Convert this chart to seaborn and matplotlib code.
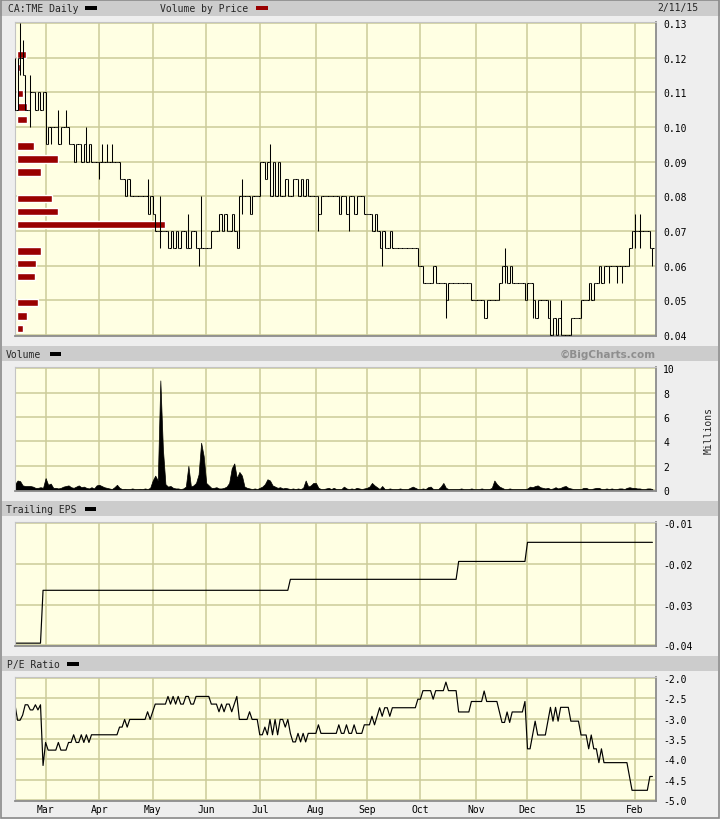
import numpy as np
import pandas as pd
import matplotlib
matplotlib.use("Agg")
import matplotlib.pyplot as plt
from matplotlib.patches import Rectangle
from matplotlib.ticker import FormatStrFormatter
import seaborn as sns

# ---------------- data ----------------
start_day, end_day = "2014-02-12", "2015-02-11"
holidays = ["2014-02-17", "2014-04-18", "2014-05-19", "2014-07-01", "2014-08-04",
            "2014-09-01", "2014-10-13", "2014-12-25", "2014-12-26", "2015-01-01"]

# daily closes (CAD), one list per month
close_feb14 = [0.105, 0.12, 0.12, 0.115, 0.105, 0.105, 0.11, 0.11, 0.105, 0.11, 0.105, 0.11]
close_mar14 = [0.095, 0.10, 0.10, 0.10, 0.10, 0.095, 0.10, 0.10, 0.10, 0.095, 0.095,
               0.09, 0.095, 0.095, 0.09, 0.095, 0.09, 0.095, 0.09, 0.09, 0.09]
close_apr14 = [0.09, 0.09, 0.09, 0.09, 0.09, 0.09, 0.09, 0.09, 0.085, 0.085, 0.08,
               0.085, 0.08, 0.08, 0.08, 0.08, 0.08, 0.08, 0.08, 0.075, 0.08]
close_may14 = [0.075, 0.07, 0.07, 0.07, 0.07, 0.07, 0.065, 0.07, 0.065, 0.07, 0.065,
               0.07, 0.07, 0.065, 0.065, 0.07, 0.07, 0.065, 0.065, 0.065, 0.065]
close_jun14 = [0.065, 0.065, 0.07, 0.07, 0.07, 0.075, 0.07, 0.075, 0.07, 0.07, 0.075,
               0.07, 0.065, 0.08, 0.08, 0.08, 0.08, 0.075, 0.08, 0.08, 0.08]
close_jul14 = [0.09, 0.09, 0.085, 0.09, 0.08, 0.09, 0.08, 0.09, 0.08, 0.08, 0.085,
               0.08, 0.08, 0.085, 0.085, 0.08, 0.085, 0.08, 0.085, 0.08, 0.08, 0.08]
close_aug14 = [0.08, 0.075, 0.08, 0.08, 0.08, 0.08, 0.08, 0.08, 0.08, 0.075,
               0.08, 0.08, 0.075, 0.08, 0.08, 0.075, 0.08, 0.08, 0.08, 0.075]
close_sep14 = [0.075, 0.075, 0.07, 0.075, 0.07, 0.065, 0.07, 0.065, 0.065, 0.07, 0.065,
               0.065, 0.065, 0.065, 0.065, 0.065, 0.065, 0.065, 0.065, 0.065, 0.06]
close_oct14 = [0.06, 0.055, 0.055, 0.055, 0.055, 0.06, 0.055, 0.055, 0.055, 0.055, 0.05,
               0.055, 0.055, 0.055, 0.055, 0.055, 0.055, 0.055, 0.055, 0.055, 0.05, 0.05]
close_nov14 = [0.05, 0.05, 0.05, 0.045, 0.05, 0.05, 0.05, 0.05, 0.05, 0.055,
               0.06, 0.06, 0.055, 0.06, 0.055, 0.055, 0.055, 0.055, 0.055, 0.05]
close_dec14 = [0.055, 0.055, 0.05, 0.045, 0.05, 0.05, 0.05, 0.05, 0.045, 0.04, 0.045,
               0.04, 0.045, 0.04, 0.04, 0.04, 0.04, 0.045, 0.045, 0.045, 0.045]
close_jan15 = [0.05, 0.05, 0.05, 0.055, 0.05, 0.055, 0.055, 0.06, 0.055, 0.06, 0.06,
               0.06, 0.06, 0.06, 0.06, 0.06, 0.06, 0.06, 0.06, 0.065, 0.07]
close_feb15 = [0.07, 0.07, 0.07, 0.07, 0.07, 0.07, 0.065, 0.065]

# days whose range went past the open/close
wick_dates = ["2014-02-12", "2014-02-14", "2014-02-18", "2014-02-21", "2014-03-04",
              "2014-03-05", "2014-03-10", "2014-03-13", "2014-03-25", "2014-04-01",
              "2014-04-02", "2014-04-04", "2014-04-08", "2014-04-29", "2014-05-06",
              "2014-05-22", "2014-05-28", "2014-05-29", "2014-06-20", "2014-07-08",
              "2014-08-05", "2014-08-21", "2014-09-10", "2014-10-16", "2014-11-18",
              "2014-12-03", "2014-12-05", "2014-12-12", "2014-12-18", "2015-01-13",
              "2015-01-15", "2015-01-19", "2015-01-22", "2015-01-26", "2015-02-02",
              "2015-02-04", "2015-02-11"]
wick_lows = [0.105, 0.115, 0.115, 0.10, 0.095, 0.095, 0.095, 0.10, 0.09, 0.085,
             0.09, 0.09, 0.09, 0.075, 0.065, 0.065, 0.06, 0.065, 0.075, 0.08,
             0.07, 0.07, 0.06, 0.045, 0.055, 0.045, 0.045, 0.04, 0.04, 0.055,
             0.055, 0.055, 0.055, 0.055, 0.065, 0.065, 0.06]
wick_highs = [0.12, 0.13, 0.125, 0.115, 0.10, 0.10, 0.105, 0.105, 0.10, 0.09,
              0.095, 0.095, 0.095, 0.085, 0.08, 0.075, 0.065, 0.08, 0.085, 0.095,
              0.08, 0.08, 0.065, 0.055, 0.065, 0.05, 0.05, 0.05, 0.05, 0.06,
              0.06, 0.06, 0.06, 0.06, 0.075, 0.075, 0.065]

# daily volume, millions of shares
vol_feb14 = [0.5, 0.8, 0.75, 0.4, 0.35, 0.35, 0.35, 0.3, 0.2, 0.2, 0.25, 0.2]
vol_mar14 = [1.0, 0.45, 0.55, 0.2, 0.2, 0.15, 0.2, 0.3, 0.35, 0.4, 0.25, 0.2, 0.3, 0.4,
             0.25, 0.3, 0.2, 0.15, 0.25, 0.15, 0.4]
vol_apr14 = [0.45, 0.35, 0.25, 0.2, 0.15, 0.1, 0.25, 0.45, 0.2, 0.1, 0.12, 0.1, 0.1,
             0.15, 0.1, 0.1, 0.12, 0.1, 0.15, 0.1, 0.2]
vol_may14 = [0.8, 1.2, 0.8, 9.0, 3.4, 0.5, 0.3, 0.35, 0.2, 0.15, 0.15, 0.1, 0.15, 0.3,
             2.0, 0.3, 0.4, 0.6, 1.3, 3.9, 2.8]
vol_jun14 = [0.6, 0.4, 0.2, 0.2, 0.25, 0.15, 0.15, 0.2, 0.3, 0.6, 1.8, 2.2, 1.0, 1.5,
             1.2, 0.3, 0.2, 0.15, 0.1, 0.15, 0.1]
vol_jul14 = [0.2, 0.3, 0.5, 0.9, 0.8, 0.4, 0.3, 0.2, 0.25, 0.15, 0.2, 0.15, 0.1, 0.15,
             0.1, 0.15, 0.1, 0.2, 0.8, 0.3, 0.4, 0.6]
vol_aug14 = [0.6, 0.2, 0.1, 0.1, 0.15, 0.2, 0.1, 0.2, 0.1, 0.1, 0.1, 0.3, 0.15, 0.1,
             0.15, 0.1, 0.2, 0.15, 0.1, 0.15]
vol_sep14 = [0.2, 0.3, 0.6, 0.4, 0.25, 0.1, 0.35, 0.1, 0.1, 0.15, 0.1, 0.1, 0.1, 0.15,
             0.1, 0.1, 0.1, 0.2, 0.3, 0.2, 0.1]
vol_oct14 = [0.1, 0.15, 0.1, 0.25, 0.3, 0.1, 0.1, 0.1, 0.3, 0.6, 0.2, 0.1, 0.1, 0.1,
             0.1, 0.1, 0.15, 0.1, 0.1, 0.1, 0.15, 0.1]
vol_nov14 = [0.1, 0.1, 0.15, 0.1, 0.1, 0.1, 0.2, 0.8, 0.5, 0.3, 0.2, 0.1, 0.1, 0.15,
             0.1, 0.1, 0.1, 0.1, 0.1, 0.1]
vol_dec14 = [0.15, 0.3, 0.25, 0.35, 0.4, 0.25, 0.2, 0.15, 0.2, 0.1, 0.15, 0.25, 0.15,
             0.2, 0.3, 0.35, 0.2, 0.15, 0.1, 0.1, 0.1]
vol_jan15 = [0.1, 0.2, 0.2, 0.1, 0.1, 0.15, 0.2, 0.2, 0.1, 0.1, 0.15, 0.1, 0.15, 0.1,
             0.1, 0.15, 0.15, 0.1, 0.2, 0.25, 0.2]
vol_feb15 = [0.2, 0.15, 0.15, 0.1, 0.1, 0.15, 0.15, 0.1]

# volume by price (relative)
vbp_price = [0.121, 0.1171, 0.1096, 0.1058, 0.1021, 0.0945, 0.0908, 0.0870, 0.0793,
             0.0756, 0.0718, 0.0642, 0.0606, 0.0568, 0.0493, 0.0455, 0.0418]
vbp_volume = [9, 3, 6, 10, 10, 17, 41, 24, 35, 41, 148, 24, 19, 18, 21, 10, 6]

# trailing EPS, value from each date on
eps_dates = ["2014-02-12", "2014-02-28", "2014-07-18", "2014-10-23", "2014-12-01"]
eps_values = [-0.0395, -0.0265, -0.0238, -0.0194, -0.0147]

month_labels = ["Mar", "Apr", "May", "Jun", "Jul", "Aug", "Sep", "Oct", "Nov", "Dec", "15", "Feb"]

# ---------------- prep ----------------
days = pd.bdate_range(start_day, end_day)
days = days[~days.isin(pd.to_datetime(holidays))]

closes = np.array(close_feb14 + close_mar14 + close_apr14 + close_may14 + close_jun14 +
                  close_jul14 + close_aug14 + close_sep14 + close_oct14 + close_nov14 +
                  close_dec14 + close_jan15 + close_feb15)
volume = np.array(vol_feb14 + vol_mar14 + vol_apr14 + vol_may14 + vol_jun14 + vol_jul14 +
                  vol_aug14 + vol_sep14 + vol_oct14 + vol_nov14 + vol_dec14 + vol_jan15 +
                  vol_feb15)
assert len(closes) == len(days) == len(volume)

idx = np.arange(len(days))
opens = np.r_[closes[0], closes[:-1]]
highs = np.maximum(opens, closes)
lows = np.minimum(opens, closes)
for d, lo, hi in zip(wick_dates, wick_lows, wick_highs):
    i = days.get_loc(pd.Timestamp(d))
    lows[i] = min(lows[i], lo)
    highs[i] = max(highs[i], hi)

eps_pos = np.searchsorted(days, pd.to_datetime(eps_dates))
eps_daily = np.array(eps_values)[np.searchsorted(eps_pos, idx, side="right") - 1]
pe_ratio = closes / eps_daily

periods = days.to_period("M")
month_pos = np.where(periods[1:] != periods[:-1])[0] + 1

# ---------------- figure ----------------
sns.set_style("white")
plt.rcParams["font.family"] = ["DejaVu Sans Mono"]
plt.rcParams["axes.unicode_minus"] = False

W, H = 720, 820
BODY = "#EEEEEE"
BAR = "#CCCCCC"
PLOT_BG = "#FFFFE3"
GRID = "#CCCC99"
XLIM = (0, 251.4)
LW = 0.75

fig = plt.figure(figsize=(W / 100, H / 100), dpi=100, facecolor=BODY)


def rect_px(x, y, w, h):
    return [x / W, 1 - (y + h) / H, w / W, h / H]


def box(x, y, w, h, color, z=0):
    fig.add_artist(Rectangle((x / W, 1 - (y + h) / H), w / W, h / H,
                             transform=fig.transFigure, facecolor=color,
                             edgecolor="none", zorder=z))


def label(x, y, s, **kw):
    fig.text(x / W, 1 - y / H, s, va="center", **kw)


def style_axes(ax, ylim, yticks, fmt):
    ax.set_facecolor(PLOT_BG)
    ax.set_xlim(XLIM)
    ax.set_ylim(ylim)
    ax.set_xticks(month_pos)
    ax.set_yticks(yticks)
    ax.yaxis.set_major_formatter(FormatStrFormatter(fmt))
    ax.yaxis.tick_right()
    ax.tick_params(length=0, labelsize=7, pad=5.2, colors="black")
    ax.tick_params(axis="x", labelbottom=False)
    ax.grid(True, color=GRID, lw=1.1)
    ax.set_axisbelow(True)
    ax.set_xlabel("")
    ax.set_ylabel("")
    for s in ["top", "left"]:
        ax.spines[s].set_color("#C4C4C4")
        ax.spines[s].set_linewidth(0.8)
    for s in ["bottom", "right"]:
        ax.spines[s].set_color("#8C8C8C")
        ax.spines[s].set_linewidth(1.3)


# header bars and legend swatches
box(0, 0, 720, 17, BAR)
box(2, 347, 716, 15, BAR)
box(2, 502, 716, 15, BAR)
box(2, 657, 716, 15, BAR)

label(8, 8.5, "CA:TME Daily", fontsize=7)
box(85, 7, 12, 3.5, "black", 3)
label(160, 8.5, "Volume by Price", fontsize=7)
box(256, 7, 12, 3.5, "#990000", 3)
label(657, 8.5, "2/11/15", fontsize=7)

label(6, 355, "Volume", fontsize=7)
box(50, 353, 11, 3.5, "black", 3)
label(656, 355, "\u00a9BigCharts.com", fontsize=7.5, ha="right", color="#8E8E8E",
      fontweight="bold", family="DejaVu Sans")

label(6, 510, "Trailing EPS", fontsize=7)
box(85, 508, 11, 3.5, "black", 3)

label(7, 665, "P/E Ratio", fontsize=7)
box(67, 663, 11.5, 3.5, "black", 3)

label(709, 431, "Millions", fontsize=7, ha="center", rotation=90)

# price panel
ax_p = fig.add_axes(rect_px(15, 23, 641, 314))
style_axes(ax_p, (0.0397, 0.1303), np.arange(0.04, 0.1301, 0.01), "%.2f")

ax_vbp = fig.add_axes(rect_px(15, 23, 641, 314), sharey=ax_p)
ax_vbp.patch.set_visible(False)
ax_vbp.axis("off")
ax_vbp.barh(vbp_price, vbp_volume, height=0.0021, left=0, color="#990000")
ax_vbp.set_xlim(-2, 639)

ax_ohlc = fig.add_axes(rect_px(15, 23, 641, 314), sharex=ax_p, sharey=ax_p)
ax_ohlc.patch.set_visible(False)
ax_ohlc.axis("off")
ax_ohlc.vlines(idx, lows, highs, color="black", lw=LW)
ax_ohlc.hlines(opens, idx - 0.5, idx, color="black", lw=LW)
ax_ohlc.hlines(closes, idx, idx + 0.5, color="black", lw=LW)
ax_ohlc.set_xlim(XLIM)
ax_ohlc.set_ylim(0.0397, 0.1303)

# volume panel
ax_v = fig.add_axes(rect_px(15, 368, 641, 124))
ax_v.fill_between(idx, volume, 0, color="black", lw=0.5, zorder=2)
style_axes(ax_v, (-0.06, 10.1), [0, 2, 4, 6, 8, 10], "%d")

# EPS panel
ax_e = fig.add_axes(rect_px(15, 523, 641, 124))
sns.lineplot(x=idx, y=eps_daily, ax=ax_e, color="black", lw=0.85)
style_axes(ax_e, (-0.0402, -0.0097), [-0.04, -0.03, -0.02, -0.01], "%.2f")

# P/E panel
ax_pe = fig.add_axes(rect_px(15, 678, 641, 124))
sns.lineplot(x=idx, y=pe_ratio, ax=ax_pe, color="black", lw=0.85)
style_axes(ax_pe, (-5.025, -1.975), np.arange(-5.0, -1.99, 0.5), "%.1f")
ax_pe.tick_params(axis="x", labelbottom=True, pad=2.5)
ax_pe.set_xticklabels(month_labels)

# outer frame
fig.add_artist(Rectangle((0.5 / W, 1.5 / H), 718.5 / W, 818 / H, transform=fig.transFigure,
                         facecolor="none", edgecolor="#8A8A8A", lw=1.2, zorder=5))

fig.savefig("out.png", dpi=100, facecolor=BODY)
